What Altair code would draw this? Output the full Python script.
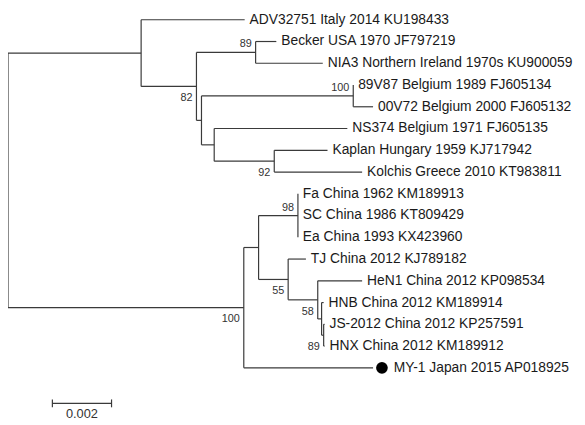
import altair as alt
import pandas as pd

# ---- tree data (DFS order) ----
node_names = [
    "root", "n1", "ADV32751 Italy 2014 KU198433", "n82", "n89a",
    "Becker USA 1970 JF797219", "NIA3 Northern Ireland 1970s KU900059",
    "n204", "n100a", "89V87 Belgium 1989 FJ605134", "00V72 Belgium 2000 FJ605132",
    "n217", "NS374 Belgium 1971 FJ605135", "n92",
    "Kaplan Hungary 1959 KJ717942", "Kolchis Greece 2010 KT983811",
    "nChina", "n262", "n98", "Fa China 1962 KM189913", "SC China 1986 KT809429",
    "Ea China 1993 KX423960", "n55", "TJ China 2012 KJ789182", "n58",
    "HeN1 China 2012 KP098534", "nA", "HNB China 2012 KM189914", "n89b",
    "JS-2012 China 2012 KP257591", "HNX China 2012 KM189912",
    "MY-1 Japan 2015 AP018925",
]
parents = [
    None, "root", "n1", "n1", "n82",
    "n89a", "n89a",
    "n82", "n204", "n100a", "n100a",
    "n204", "n217", "n217",
    "n92", "n92",
    "root", "nChina", "n262", "n98", "n98",
    "n98", "n262", "n55", "n55",
    "n58", "n58", "nA", "nA",
    "n89b", "n89b",
    "nChina",
]
branch_lengths = [
    0.0, 0.0045, 0.0035, 0.00187, 0.0020,
    0.0007, 0.00227,
    0.00017, 0.00513, 0.0, 0.00067,
    0.00043, 0.0045, 0.00203,
    0.0018, 0.00297,
    0.00797, 0.0005, 0.00133, 0.0, 0.0,
    0.0, 0.0010, 0.0006, 0.0010,
    0.0015, 0.00013, 0.00007, 0.00007,
    0.00003, 0.00003,
    0.00437,
]
bootstrap = {"n82": 82, "n89a": 89, "n100a": 100, "n92": 92, "nChina": 100,
             "n98": 98, "n55": 55, "n58": 58, "n89b": 89}
marked_leaves = ["MY-1 Japan 2015 AP018925"]
scale_bar_len = 0.002
scale_bar_label = "0.002"

# ---- layout ----
PX_PER_UNIT = 30000.0
PX_PER_LEAF = 22.06
TOP = 9.0
W, H = 577, 409

children = {n: [] for n in node_names}
for n, p in zip(node_names, parents):
    if p is not None:
        children[p].append(n)
bl = dict(zip(node_names, branch_lengths))
par = dict(zip(node_names, parents))

xpos, ypos = {}, {}
leaf_counter = [0]


def place(n, x):
    xpos[n] = x
    for c in children[n]:
        place(c, x + bl[c])
    if not children[n]:
        ypos[n] = leaf_counter[0]
        leaf_counter[0] += 1
    else:
        ypos[n] = (ypos[children[n][0]] + ypos[children[n][-1]]) / 2


place("root", 0.0)

segs = []
for n in node_names:
    p = par[n]
    if p is not None:
        segs.append(dict(x=xpos[p], x2=xpos[n], y=ypos[n], y2=ypos[n]))
    if children[n]:
        segs.append(dict(x=xpos[n], x2=xpos[n],
                         y=ypos[children[n][0]], y2=ypos[children[n][-1]]))
seg_df = pd.DataFrame(segs)

leaves = [n for n in node_names if not children[n]]
leaf_df = pd.DataFrame([dict(x=xpos[n], y=ypos[n], label=n, marked=n in marked_leaves)
                        for n in leaves])
boot_rows = []
for n, v in bootstrap.items():
    side = "above" if children[par[n]][0] == n else "below"
    boot_rows.append(dict(x=xpos[n], y=ypos[n], label=str(v), side=side))
boot_df = pd.DataFrame(boot_rows)
mark_df = leaf_df[leaf_df.marked].copy()
mark_df["mx"] = mark_df["x"] + 9 / PX_PER_UNIT

xs = alt.Scale(domain=[0, W / PX_PER_UNIT], range=[0, W])
ys = alt.Scale(domain=[-TOP / PX_PER_LEAF, (H - TOP) / PX_PER_LEAF], reverse=True)
X = lambda f: alt.X(f, type="quantitative", scale=xs, axis=None)
Y = lambda f: alt.Y(f, type="quantitative", scale=ys, axis=None)

LINE = "#3a3a3a"
FONT = "Liberation Sans"
LEAF_FS = 14

lines = alt.Chart(seg_df).mark_rule(color=LINE, strokeWidth=1.2).encode(
    x=X("x"), x2="x2", y=Y("y"), y2="y2")

leaf_text = alt.Chart(leaf_df[~leaf_df.marked]).mark_text(
    align="left", baseline="middle", dx=5, font=FONT, fontSize=LEAF_FS, color="#1a1a1a"
).encode(x=X("x"), y=Y("y"), text="label:N")

marked_text = alt.Chart(leaf_df[leaf_df.marked]).mark_text(
    align="left", baseline="middle", dx=21, font=FONT, fontSize=LEAF_FS, color="#1a1a1a"
).encode(x=X("x"), y=Y("y"), text="label:N")

dot = alt.Chart(mark_df).mark_circle(size=140, color="black", opacity=1).encode(
    x=X("mx"), y=Y("y"))

boot_above = alt.Chart(boot_df[boot_df.side == "above"]).mark_text(
    align="right", baseline="middle", dx=-4, dy=-8, font=FONT, fontSize=11, color="#333333"
).encode(x=X("x"), y=Y("y"), text="label:N")

boot_below = alt.Chart(boot_df[boot_df.side == "below"]).mark_text(
    align="right", baseline="middle", dx=-4, dy=12, font=FONT, fontSize=11, color="#333333"
).encode(x=X("x"), y=Y("y"), text="label:N")

sb_start = 0.0015
sb_df = pd.DataFrame([dict(x=sb_start, x2=sb_start + scale_bar_len,
                           xm=sb_start + scale_bar_len / 2, label=scale_bar_label)])
sb_line = alt.Chart(sb_df).mark_rule(color=LINE, strokeWidth=1.2).encode(
    x=X("x"), x2="x2", y=alt.value(398))
sb_tick1 = alt.Chart(sb_df).mark_rule(color=LINE, strokeWidth=1.2).encode(
    x=X("x"), y=alt.value(394), y2=alt.value(402))
sb_tick2 = alt.Chart(sb_df).mark_rule(color=LINE, strokeWidth=1.2).encode(
    x=X("x2"), y=alt.value(394), y2=alt.value(402))
sb_text = alt.Chart(sb_df).mark_text(
    align="center", baseline="middle", font=FONT, fontSize=13, color="#333333"
).encode(x=X("xm"), y=alt.value(409), text="label:N")

chart = alt.layer(
    lines, leaf_text, marked_text, dot, boot_above, boot_below,
    sb_line, sb_tick1, sb_tick2, sb_text
).properties(
    width=W, height=H, autosize=alt.AutoSizeParams(type="none"),
    padding={"left": 0, "top": 0, "right": 0, "bottom": 7},
    background="white"
).configure_view(stroke=None)

chart.save("out.html", embed_options={"renderer": "svg", "actions": False})
